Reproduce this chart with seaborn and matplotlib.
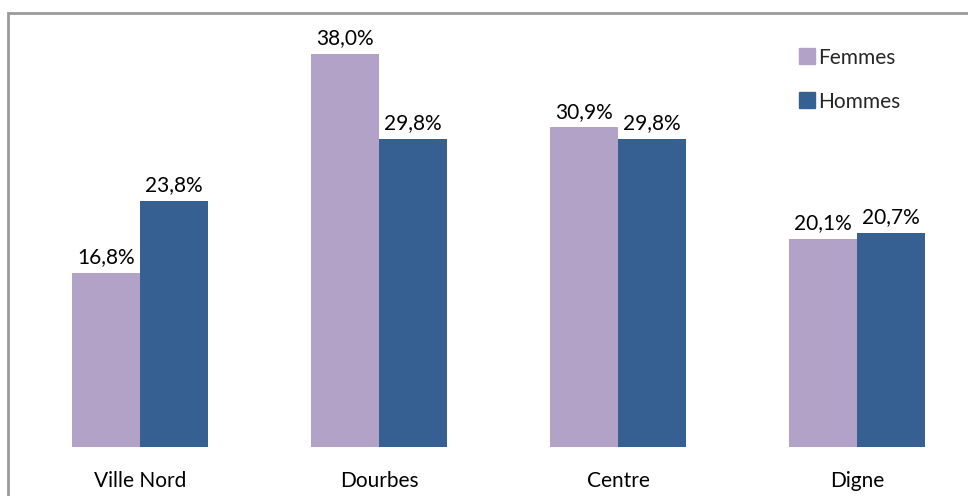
import matplotlib
matplotlib.use("Agg")
import matplotlib.pyplot as plt
import seaborn as sns
import pandas as pd
from matplotlib.patches import Rectangle
from matplotlib.lines import Line2D

categories = ["Ville Nord", "Dourbes", "Centre", "Digne"]
femmes = [16.8, 38.0, 30.9, 20.1]
hommes = [23.8, 29.8, 29.8, 20.7]
series = ["Femmes", "Hommes"]
colors = ["#B3A2C7", "#376092"]

df = pd.DataFrame({
    "cat": categories * 2,
    "val": femmes + hommes,
    "serie": ["Femmes"] * 4 + ["Hommes"] * 4,
})

sns.set_theme(style="white")
plt.rcParams["font.family"] = ["Lato", "DejaVu Sans"]
FS = 15

W, H = 968, 496
fig = plt.figure(figsize=(W / 100, H / 100), dpi=100)
ax = fig.add_axes([8 / W, (H - 447) / H, (968 - 8) / W, (447 - 33) / H])
sns.barplot(data=df, x="cat", y="val", hue="serie", palette=colors,
            width=0.569, ax=ax, legend=False, saturation=1, linewidth=0)
ax.set_xlim((8 - 140) / 239, (968 - 140) / 239)
ax.set_ylim(0, 40)
for c in ax.containers:
    labels = [f"{v:.1f}%".replace(".", ",") for v in c.datavalues]
    ax.bar_label(c, labels=labels, padding=4, fontsize=FS, color="#000000")
for s in ax.spines.values():
    s.set_visible(False)
ax.set_yticks([])
ax.set_xlabel("")
ax.set_ylabel("")
ax.tick_params(axis="x", length=0, pad=17, labelsize=FS, colors="#000000")

handles = [Line2D([], [], marker="s", linestyle="", markersize=11,
                  markerfacecolor=col, markeredgecolor=col) for col in colors]
fig.legend(handles, series, loc="upper left", bbox_to_anchor=(776 / W, 1 - 29 / H),
           frameon=False, fontsize=FS, handletextpad=-0.1, labelspacing=1.15,
           handlelength=1.2)

fig.patches.append(Rectangle((8 / W, -0.1), 1.2, 1.1 - 13 / H, transform=fig.transFigure,
                             fill=False, edgecolor="#9a9a9a", linewidth=2, zorder=10))
fig.savefig("out.png", dpi=100, facecolor="white")
